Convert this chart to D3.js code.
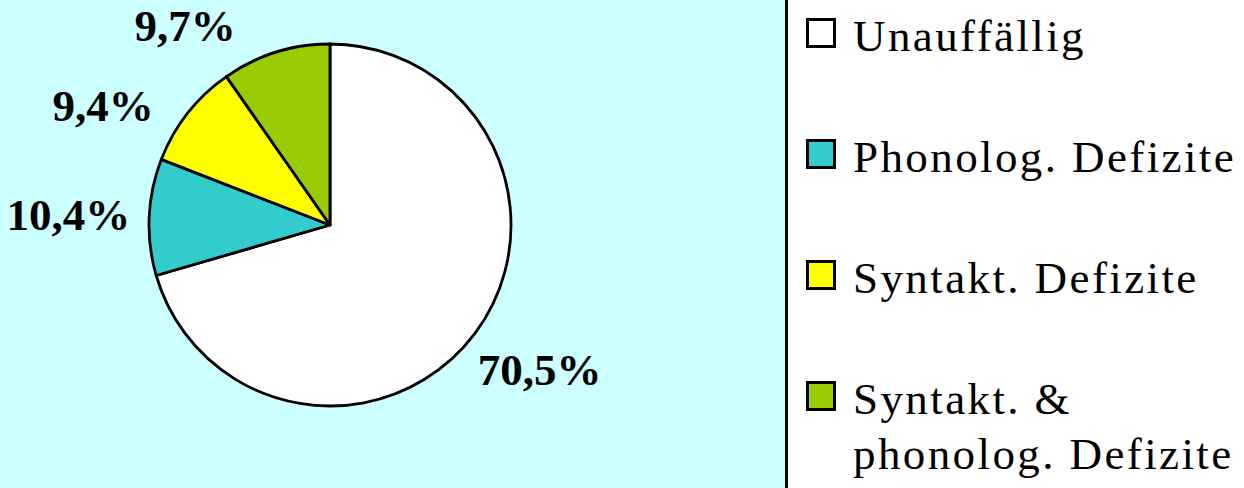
<!DOCTYPE html>
<html>
<head>
<meta charset="utf-8">
<script src="https://cdn.jsdelivr.net/npm/d3@7"></script>
<style>
        body { margin: 0; background: #ffffff; }
        svg { display: block; }
        text { font-family: "Liberation Serif", "Times New Roman", serif; }
</style>
</head>
<body>
<svg id="chart" width="1244" height="488"></svg>
<script>
// pie chart of language deficits, with legend on the right

const categories = ["Unauffällig", "Phonolog. Defizite", "Syntakt. Defizite", "Syntakt. & phonolog. Defizite"];
const legendLines = [["Unauffällig"], ["Phonolog. Defizite"], ["Syntakt. Defizite"], ["Syntakt. &", "phonolog. Defizite"]];
const values = [70.5, 10.4, 9.4, 9.7];
const valueLabels = ["70,5%", "10,4%", "9,4%", "9,7%"];
const sliceColours = ["#ffffff", "#33cccc", "#ffff00", "#99cc00"];

class pieChart{

        constructor(svg, cx, cy, r){
                this.svg = svg;
                this.cx = cx;
                this.cy = cy;
                this.r = r;
                this.draw();
        }

        draw(){
                // plot area background
                this.svg.append("rect")
                        .attr("x", 0)
                        .attr("y", 0)
                        .attr("width", 786)
                        .attr("height", 488)
                        .attr("fill", "#ccffff");

                this.svg.append("line")
                        .attr("x1", 786.5).attr("y1", 0)
                        .attr("x2", 786.5).attr("y2", 488)
                        .attr("stroke", "#000")
                        .attr("stroke-width", 3);

                const pie = d3.pie().sort(null).value(d => d)
                        .startAngle(0).endAngle(2 * Math.PI);
                const arcs = pie(values);
                const arc = d3.arc().innerRadius(0).outerRadius(this.r);
                const colour = d3.scaleOrdinal().domain(categories).range(sliceColours);

                const g = this.svg.append("g")
                        .attr("transform", `translate(${this.cx},${this.cy})`);

                g.selectAll("path")
                        .data(arcs)
                        .join("path")
                        .attr("d", arc)
                        .attr("fill", (d, i) => colour(categories[i]))
                        .attr("stroke", "#000")
                        .attr("stroke-width", 2.8)
                        .attr("stroke-linejoin", "round");

                // labels sit on an ellipse around the pie, kept inside the plot area
                // and pushed apart so they don't crowd each other
                const rx = this.r + 81, ry = this.r + 59;
                const minY = 25 - this.cy;
                const minGap = 80;
                const pos = arcs.map(d => {
                        const a = (d.startAngle + d.endAngle) / 2;
                        return {side: Math.sign(Math.sin(a)), x: rx * Math.sin(a), y: Math.max(minY, -ry * Math.cos(a))};
                });
                [-1, 1].forEach(side => {
                        const group = pos.filter(p => p.side == side).sort((a, b) => a.y - b.y);
                        for (let k = 1; k < group.length; k++)
                                if (group[k].y - group[k - 1].y < minGap)
                                        group[k].y = group[k - 1].y + minGap;
                });
                pos.forEach(p => {
                        const t = Math.min(1, Math.abs(p.y / ry));
                        p.x = p.side * rx * Math.sqrt(1 - t * t);
                });

                g.selectAll("text.value")
                        .data(arcs)
                        .join("text")
                        .attr("class", "value")
                        .attr("x", (d, i) => pos[i].x)
                        .attr("y", (d, i) => pos[i].y)
                        .attr("text-anchor", "middle")
                        .attr("dy", "0.35em")
                        .style("font-weight", "bold")
                        .style("font-size", "45px")
                        .attr("fill", "#000")
                        .text((d, i) => valueLabels[i]);
        }
}

class pieLegend{

        constructor(svg, x, y, step){
                this.svg = svg;
                this.x = x;
                this.y = y;
                this.step = step;
                this.draw();
        }

        draw(){
                const items = this.svg.append("g")
                        .selectAll("g")
                        .data(categories)
                        .join("g")
                        .attr("transform", (d, i) => `translate(${this.x},${this.y + i * this.step})`);

                items.append("rect")
                        .attr("x", 1.5)
                        .attr("y", -31.5)
                        .attr("width", 27)
                        .attr("height", 27)
                        .attr("fill", (d, i) => sliceColours[i])
                        .attr("stroke", "#000")
                        .attr("stroke-width", 3);

                items.append("text")
                        .style("font-size", "45px")
                        .style("letter-spacing", "2.4px")
                        .attr("fill", "#000")
                        .selectAll("tspan")
                        .data((d, i) => legendLines[i])
                        .join("tspan")
                        .attr("x", 47)
                        .attr("y", (d, j) => j * 55)
                        .text(d => d);
        }
}

const svg = d3.select("#chart");
new pieChart(svg, 330, 225, 181);
new pieLegend(svg, 806, 51, 121);
</script>
</body>
</html>
